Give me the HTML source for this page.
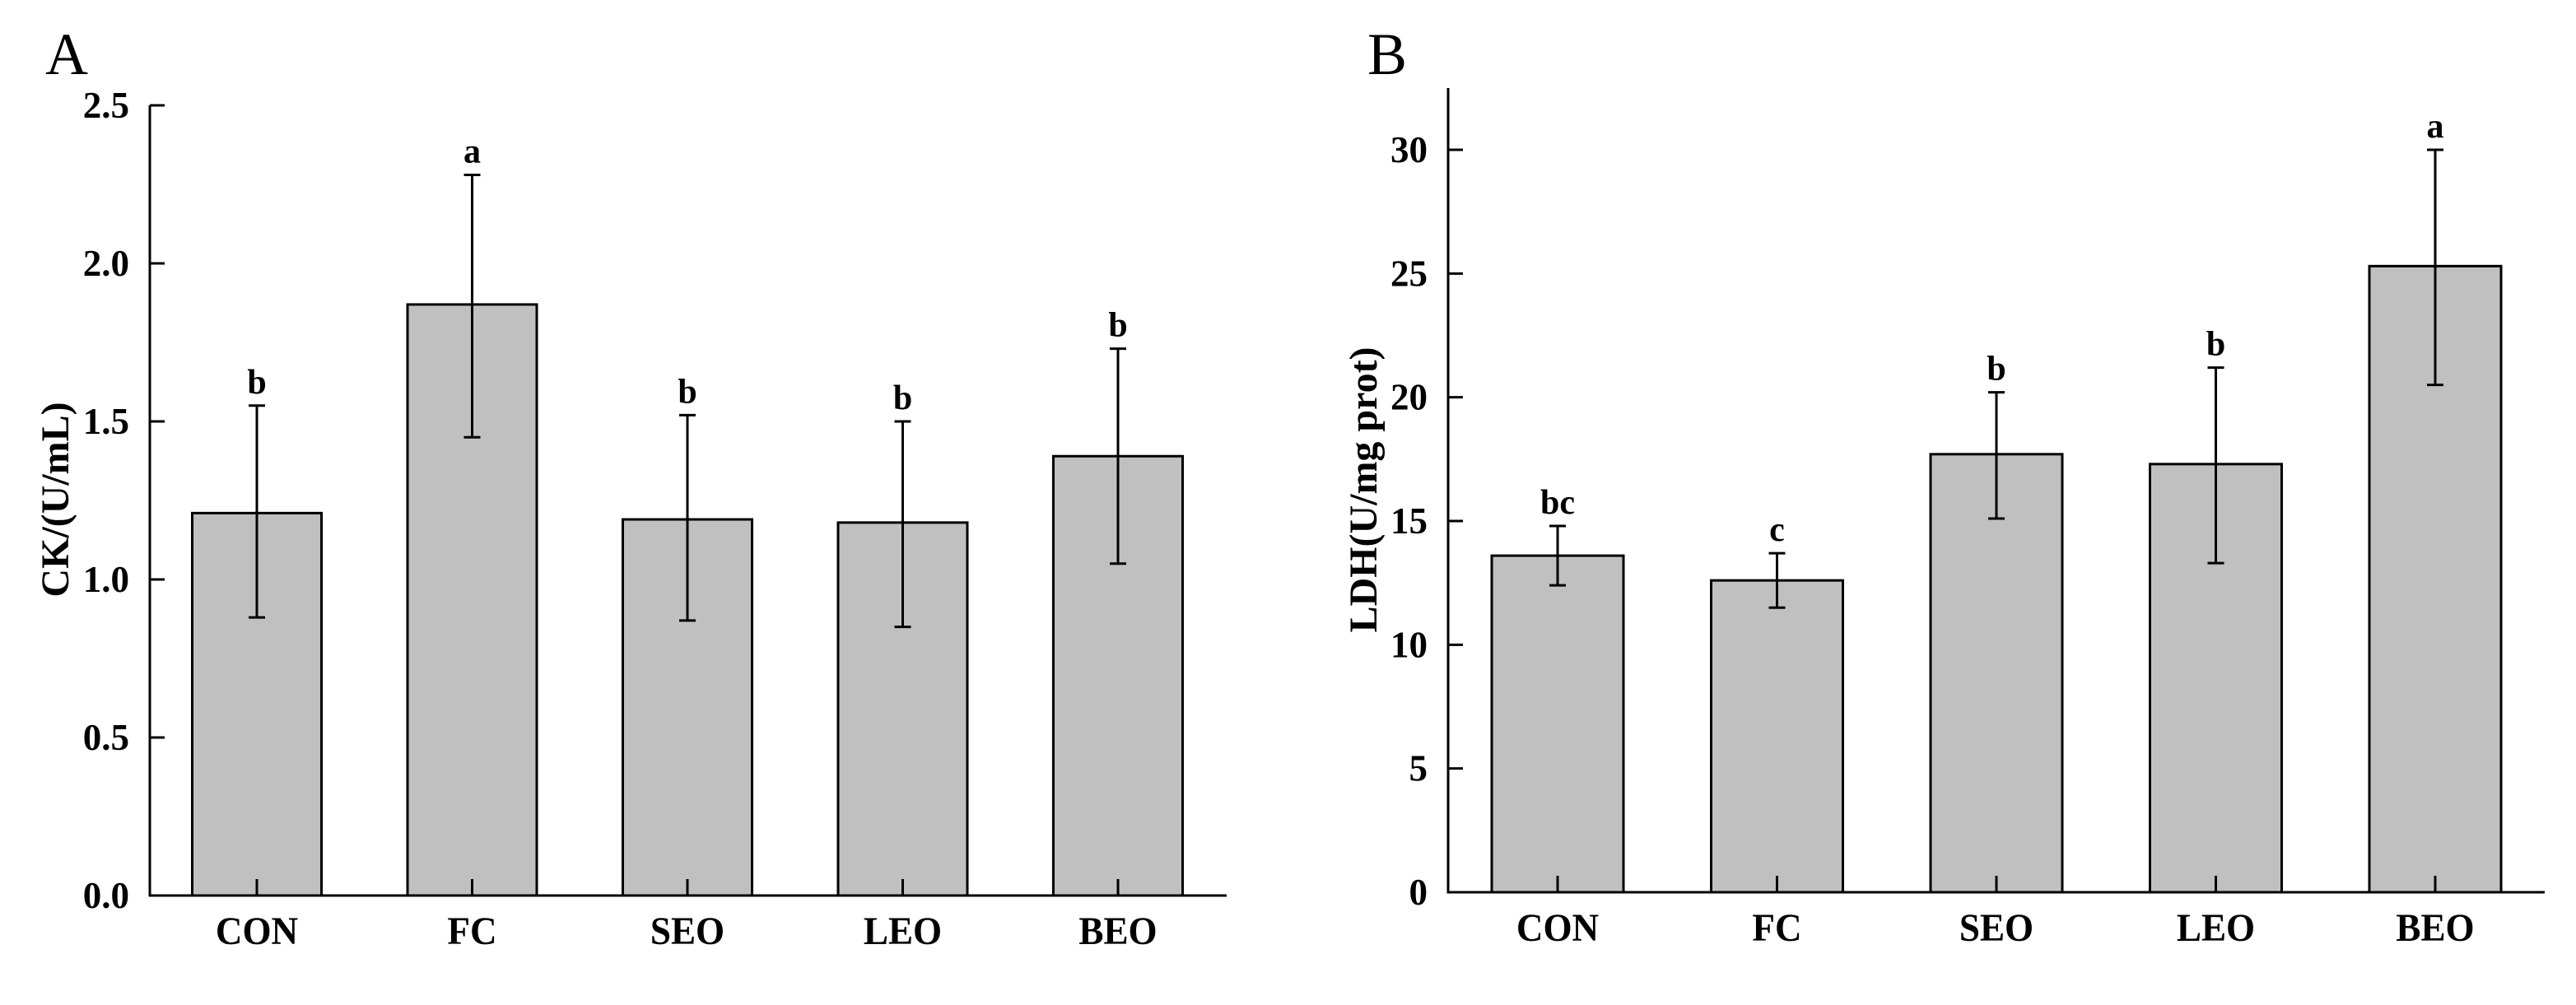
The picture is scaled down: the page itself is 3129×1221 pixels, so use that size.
<!DOCTYPE html>
<html><head><meta charset="utf-8"><style>
html,body{margin:0;padding:0;background:#fff;overflow:hidden;}
svg{display:block;}
text{font-family:"Liberation Serif",serif;fill:#000;}
.b{font-weight:bold;}
</style></head><body>
<svg id="fig" width="3129" height="1221" viewBox="0 0 3129 1221" xmlns="http://www.w3.org/2000/svg">
<rect width="3129" height="1221" fill="#fff"/>
<text x="55" y="90" font-size="72">A</text>
<text x="1661" y="90" font-size="72">B</text>
<g id="pa"></g>
<g id="pb"></g>
</svg>
<script>
const categories = ["CON","FC","SEO","LEO","BEO"];
const ckMean = [1.21,1.87,1.19,1.18,1.39];
const ckLow = [0.88,1.45,0.87,0.85,1.05];
const ckHigh = [1.55,2.28,1.52,1.50,1.73];
const ckLetters = ["b","a","b","b","b"];
const ckTicks = [0,0.5,1.0,1.5,2.0,2.5];
const ckTickLabels = ["0.0","0.5","1.0","1.5","2.0","2.5"];
const ldhMean = [13.6,12.6,17.7,17.3,25.3];
const ldhLow = [12.4,11.5,15.1,13.3,20.5];
const ldhHigh = [14.8,13.7,20.2,21.2,30.0];
const ldhLetters = ["bc","c","b","b","a"];
const ldhTicks = [0,5,10,15,20,25,30];
const ldhTickLabels = ["0","5","10","15","20","25","30"];

const NS="http://www.w3.org/2000/svg";
function mk(parent,tag,attrs){const e=document.createElementNS(NS,tag);for(const k in attrs)e.setAttribute(k,attrs[k]);parent.appendChild(e);return e;}

function draw(g,cfg){
  const y=v=>cfg.y0-(v-cfg.ymin)/(cfg.ymax-cfg.ymin)*(cfg.y0-cfg.y1);
  const x=i=>cfg.xStart+i*cfg.step;
  const bw=cfg.bw;
  cfg.mean.forEach((v,i)=>{
    const r=mk(g,'rect',{x:x(i)-bw/2,y:y(v),width:bw,height:cfg.y0-y(v),fill:'#c0c0c0',stroke:'#000','stroke-width':3});
    
    
    const eb=mk(g,'path',{d:`M${x(i)},${y(cfg.low[i])}V${y(cfg.high[i])}M${x(i)-10},${y(cfg.high[i])}H${x(i)+10}M${x(i)-10},${y(cfg.low[i])}H${x(i)+10}`,stroke:'#000','stroke-width':3,fill:'none'});
    
    
    const lt=mk(g,'text',{x:x(i),y:y(cfg.high[i])-15,'font-size':42,'text-anchor':'middle',class:'b'});
    lt.textContent=cfg.letters[i];
    
    
    const tk=mk(g,'line',{x1:x(i),x2:x(i),y1:cfg.y0,y2:cfg.y0-20,stroke:'#000','stroke-width':3});
    
    
    const tg=mk(g,'g',{transform:`translate(${x(i)},${cfg.y0+59}) scale(0.94,1)`});
    const xl=mk(tg,'text',{x:0,y:0,'font-size':48,'text-anchor':'middle',class:'b'});
    xl.textContent=categories[i];
    
    
  });
  const ya=mk(g,'line',{x1:cfg.ax,x2:cfg.ax,y1:cfg.axTop,y2:cfg.y0+1.5,stroke:'#000','stroke-width':3});
  
  
  const xa=mk(g,'line',{x1:cfg.ax,x2:cfg.axRight,y1:cfg.y0,y2:cfg.y0,stroke:'#000','stroke-width':3});
  
  
  cfg.ticks.forEach((t,i)=>{
    const l=mk(g,'line',{x1:cfg.ax,x2:cfg.ax+18,y1:y(t),y2:y(t),stroke:'#000','stroke-width':3});
    
    
    const tl=mk(g,'text',{x:cfg.ax-25,y:y(t)+15,'font-size':45,'text-anchor':'end',class:'b'});
    tl.textContent=cfg.tickLabels[i];
    
    
  });
  const tg=mk(g,'g',{transform:`translate(${cfg.titleX},${cfg.titleY}) rotate(-90)`});
  const tt=mk(tg,'text',{x:0,y:0,'font-size':48,'text-anchor':'middle',class:'b'});
  tt.textContent=cfg.title;
  
  
}
draw(document.getElementById('pa'),{mean:ckMean,low:ckLow,high:ckHigh,letters:ckLetters,ticks:ckTicks,tickLabels:ckTickLabels,
  ymin:0,ymax:2.5,y0:1088,y1:128,axTop:128,ax:182,axRight:1490,xStart:312,step:261.5,bw:157,title:"CK/(U/mL)",titleX:83,titleY:607});
draw(document.getElementById('pb'),{mean:ldhMean,low:ldhLow,high:ldhHigh,letters:ldhLetters,ticks:ldhTicks,tickLabels:ldhTickLabels,
  ymin:0,ymax:30,y0:1084,y1:182,axTop:107,ax:1759,axRight:3091,xStart:1892,step:266.5,bw:160,title:"LDH(U/mg prot)",titleX:1672,titleY:595});
</script>
</body></html>
